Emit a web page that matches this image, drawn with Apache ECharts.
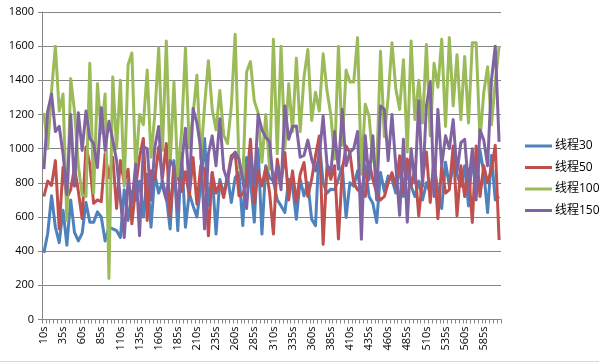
<!DOCTYPE html>
<html><head><meta charset="utf-8">
<script src="https://cdn.jsdelivr.net/npm/echarts@6/dist/echarts.min.js"></script>
<style>html,body{margin:0;padding:0;background:#fff}#c{width:599px;height:362px;box-sizing:border-box;border-bottom:1px solid #d9d9d9}</style>
</head><body><div id="c"></div>
<script>
const categories = [];
for (let s = 10; s <= 605; s += 5) categories.push(s + 's');
const seriesNames = ['线程30', '线程50', '线程100', '线程150'];
const yTicks = { min: 0, max: 1800, interval: 200 };

const t30 = [390,505,725,540,450,640,435,700,510,460,505,685,570,570,630,600,460,540,530,520,
480,760,580,750,700,810,600,850,540,850,740,810,720,530,930,520,970,540,740,665,
600,780,1060,665,860,500,820,733,840,685,830,860,550,948,820,570,1000,500,900,830,
812,700,665,626,821,780,587,821,724,801,587,549,1036,800,740,763,760,820,900,597,
801,780,870,720,900,720,680,568,860,750,840,820,740,900,720,860,780,720,810,700,
800,740,900,760,650,920,780,900,850,780,900,665,960,740,990,860,626,960,700,720];

const t50 = [720,810,785,930,530,890,710,760,890,750,590,1010,910,680,700,690,970,830,950,650,
930,800,880,560,780,950,1060,580,870,820,1010,830,1030,600,890,840,750,865,720,948,
675,900,880,490,860,740,800,714,830,958,977,724,733,800,1055,680,870,782,889,743,
500,938,800,977,700,870,685,850,919,720,820,958,1074,440,900,821,900,471,870,1016,
977,800,760,740,720,920,820,740,700,720,800,860,780,958,740,940,780,880,607,830,
980,685,940,590,900,740,760,1016,607,900,720,880,568,1016,720,900,800,880,1020,465];

const t100 = [1210,1000,1340,1600,1220,1320,580,1410,1220,900,730,720,1500,740,1380,1090,1320,240,1420,1000,
1400,780,1490,1560,870,1200,1140,1460,950,1200,1590,990,1630,900,1390,840,1100,1590,1010,1200,
1430,940,1250,1515,1230,1110,1340,1080,1030,1250,1670,900,820,1450,1510,1280,1210,920,1200,880,
1640,970,1600,1000,1380,1100,1530,1100,1420,1580,1165,1330,1220,1555,1340,1200,940,1600,1020,1460,
1390,1390,1650,850,1260,1190,940,880,1570,1070,1300,1620,1350,1230,1520,980,1630,1170,1400,1150,
1610,1075,1500,1360,1640,1130,1650,1250,1550,1170,1540,1150,1620,1620,1055,1330,1480,1140,1390,1600];

const t150 = [880,1220,1320,1100,1130,970,730,1200,780,1210,990,1220,1060,1030,890,1240,990,1160,1050,930,
700,480,810,680,910,490,1010,1000,700,1010,1130,780,700,930,900,640,910,1120,760,1235,
1150,1000,530,970,1075,900,1175,880,810,935,980,940,820,650,970,780,1200,1110,1065,1040,
800,900,760,1250,1055,1130,1133,950,960,1050,938,870,960,1190,910,860,1100,880,1230,900,
980,1000,1100,470,1075,820,1075,700,1250,1230,930,1200,900,610,1055,570,1000,800,1280,780,
1250,1390,720,1230,900,1075,1000,1170,860,1035,1055,780,1000,700,1110,1050,900,1400,1600,1040];

const values = [t30, t50, t100, t150];
const colors = ['#4F81BD', '#C0504D', '#9BBB59', '#8064A2'];
const font = '"Open Sans", "Noto Sans CJK SC", sans-serif';

const chart = echarts.init(document.getElementById('c'), null, { renderer: 'canvas' });
chart.setOption({
  animation: false,
  backgroundColor: '#fff',
  color: colors,
  grid: { left: 42, top: 12, width: 459, height: 307.5, containLabel: false },
  legend: {
    orient: 'vertical', left: 520, top: 135,
    icon: 'rect', itemWidth: 27, itemHeight: 3, itemGap: 9.5,
    textStyle: { fontSize: 12, color: '#000', fontFamily: font, padding: [0, 0, 0, -2] },
    data: seriesNames
  },
  xAxis: {
    type: 'category', data: categories, boundaryGap: true,
    axisLine: { lineStyle: { color: '#868686', width: 1 } },
    axisTick: { show: true, interval: 0, length: 4, lineStyle: { color: '#868686' } },
    axisLabel: { interval: 4, rotate: 90, fontSize: 11, color: '#000', fontFamily: font, margin: 7 },
    splitLine: { show: false }
  },
  yAxis: {
    type: 'value', min: yTicks.min, max: yTicks.max, interval: yTicks.interval,
    axisLine: { show: true, lineStyle: { color: '#868686', width: 1 } },
    axisTick: { show: true, length: 4, lineStyle: { color: '#868686' } },
    axisLabel: { fontSize: 11, color: '#000', fontFamily: font, margin: 8, formatter: v => String(v) },
    splitLine: { show: true, lineStyle: { color: '#868686', width: 1 } }
  },
  series: seriesNames.map((n, k) => ({
    name: n, type: 'line', data: values[k], symbol: 'none', smooth: false,
    lineStyle: { width: 3, color: colors[k], join: 'round' }, z: 2 + k
  }))
});
</script></body></html>
